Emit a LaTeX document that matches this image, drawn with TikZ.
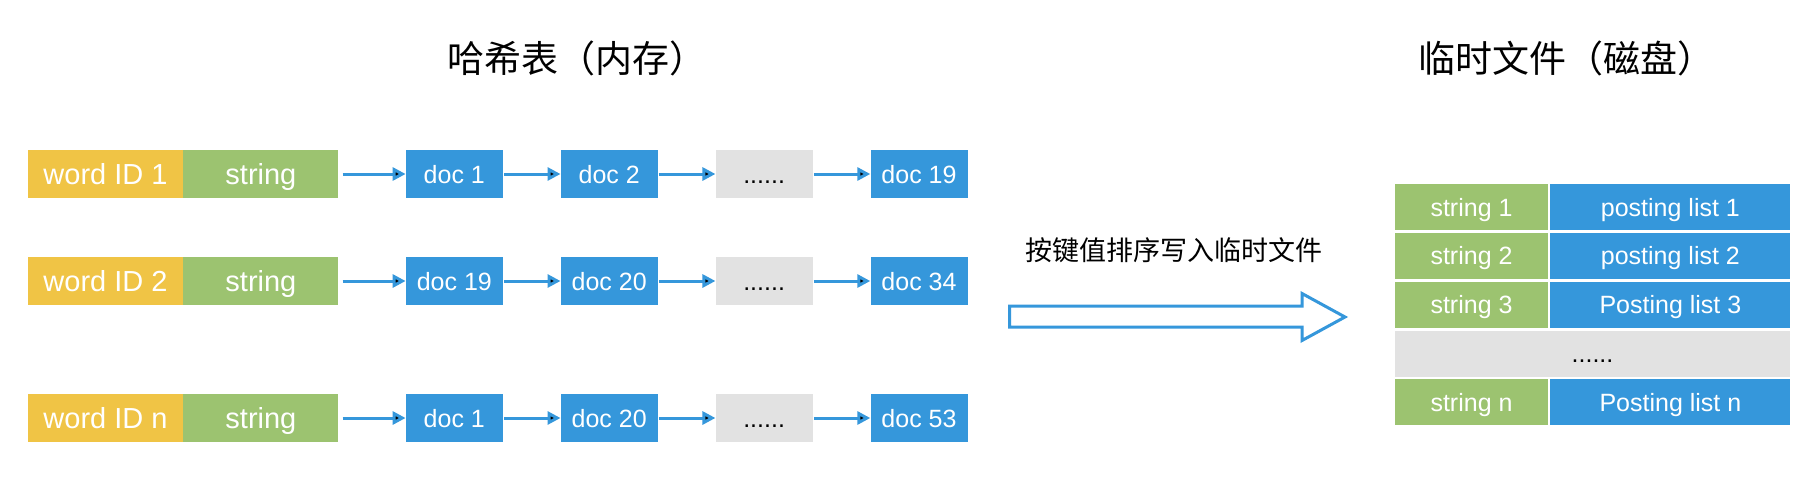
\documentclass[tikz,border=0pt]{standalone}
\usepackage{fontspec}
\setmainfont{Liberation Sans}
\newfontfamily\cjk{Noto Sans CJK SC}
\usetikzlibrary{positioning, arrows.meta}
\definecolor{wordyellow}{HTML}{F0C445}
\definecolor{strgreen}{HTML}{9CC370}
\definecolor{docblue}{HTML}{3597DB}
\definecolor{dotgray}{HTML}{E2E2E2}

\begin{document}
\begin{tikzpicture}[x=1pt, y=-1pt, node distance=0pt,
   box/.style={minimum height=48pt, inner sep=0pt, text=white, text height=21pt, text depth=0pt,
     font=\fontsize{29}{29}\selectfont},
   wordbox/.style={box, fill=wordyellow, minimum width=155pt},
   strbox/.style={box, fill=strgreen, minimum width=155pt},
   docbox/.style={box, fill=docblue, minimum width=97pt, text height=18pt, font=\fontsize{25}{25}\selectfont},
   dotbox/.style={docbox, fill=dotgray, text=black},
   cell/.style={minimum height=46pt, inner sep=0pt, text=white, text height=18pt, text depth=0pt,
     font=\fontsize{25}{25}\selectfont},
   tabstr/.style={cell, fill=strgreen, minimum width=153pt},
   tabpost/.style={cell, fill=docblue, minimum width=240pt},
   tabdots/.style={cell, fill=dotgray, text=black, minimum width=395pt},
   title/.style={font=\cjk\fontsize{37}{37}\selectfont},
   link/.style={-{Triangle[length=13pt,width=13pt]}, line width=3pt, draw=docblue}]
   \useasboundingbox (0,0) rectangle (1801,498);

   % titles
   \node[title] (hashtitle) at (577,58) {哈希表（内存）};
   \node[title] (filetitle) at (1566,58) {临时文件（磁盘）};

   % hash table rows
   \node[wordbox] (w1) at (105.5,174) {word ID 1};
   \node[strbox] (s1) [right=of w1] {string};
   \node[docbox] (d11) [right=67pt of s1] {doc 1};
   \node[docbox] (d12) [right=57.5pt of d11] {doc 2};
   \node[dotbox] (d13) [right=57.5pt of d12] {......};
   \node[docbox] (d14) [right=57.5pt of d13] {doc 19};

   \node[wordbox] (w2) at (105.5,281) {word ID 2};
   \node[strbox] (s2) [right=of w2] {string};
   \node[docbox] (d21) [right=67pt of s2] {doc 19};
   \node[docbox] (d22) [right=57.5pt of d21] {doc 20};
   \node[dotbox] (d23) [right=57.5pt of d22] {......};
   \node[docbox] (d24) [right=57.5pt of d23] {doc 34};

   \node[wordbox] (w3) at (105.5,418) {word ID n};
   \node[strbox] (s3) [right=of w3] {string};
   \node[docbox] (d31) [right=67pt of s3] {doc 1};
   \node[docbox] (d32) [right=57.5pt of d31] {doc 20};
   \node[dotbox] (d33) [right=57.5pt of d32] {......};
   \node[docbox] (d34) [right=57.5pt of d33] {doc 53};

   \path[link]
   (s1) edge [shorten <=4pt] (d11)
   (d11) edge [shorten <=1pt] (d12)
   (d12) edge [shorten <=1pt] (d13)
   (d13) edge [shorten <=1pt] (d14)
   (s2) edge [shorten <=4pt] (d21)
   (d21) edge [shorten <=1pt] (d22)
   (d22) edge [shorten <=1pt] (d23)
   (d23) edge [shorten <=1pt] (d24)
   (s3) edge [shorten <=4pt] (d31)
   (d31) edge [shorten <=1pt] (d32)
   (d32) edge [shorten <=1pt] (d33)
   (d33) edge [shorten <=1pt] (d34)
   ;

   % write to file
   \node[font=\cjk\fontsize{27}{27}\selectfont] (sortlabel) at (1174,250) {按键值排序写入临时文件};
   \draw[docblue, line width=3pt, fill=white]
     (1009.5,306) -- (1302,306) -- (1302,293.5) -- (1345,317)
     -- (1302,340.5) -- (1302,327) -- (1009.5,327) -- cycle;

   % temporary file
   \node[tabstr] (t1s) at (1471.5,207) {string 1};
   \node[tabpost] (t1p) [right=2pt of t1s] {posting list 1};
   \node[tabstr] (t2s) [below=2.5pt of t1s] {string 2};
   \node[tabpost] (t2p) [right=2pt of t2s] {posting list 2};
   \node[tabstr] (t3s) [below=2.5pt of t2s] {string 3};
   \node[tabpost] (t3p) [right=2pt of t3s] {Posting list 3};
   \node[tabdots] (tdots) [below right=2.5pt and 0pt of t3s.south west] {......};
   \node[tabstr] (tns) [below=51pt of t3s] {string n};
   \node[tabpost] (tnp) [right=2pt of tns] {Posting list n};
\end{tikzpicture}
\end{document}
